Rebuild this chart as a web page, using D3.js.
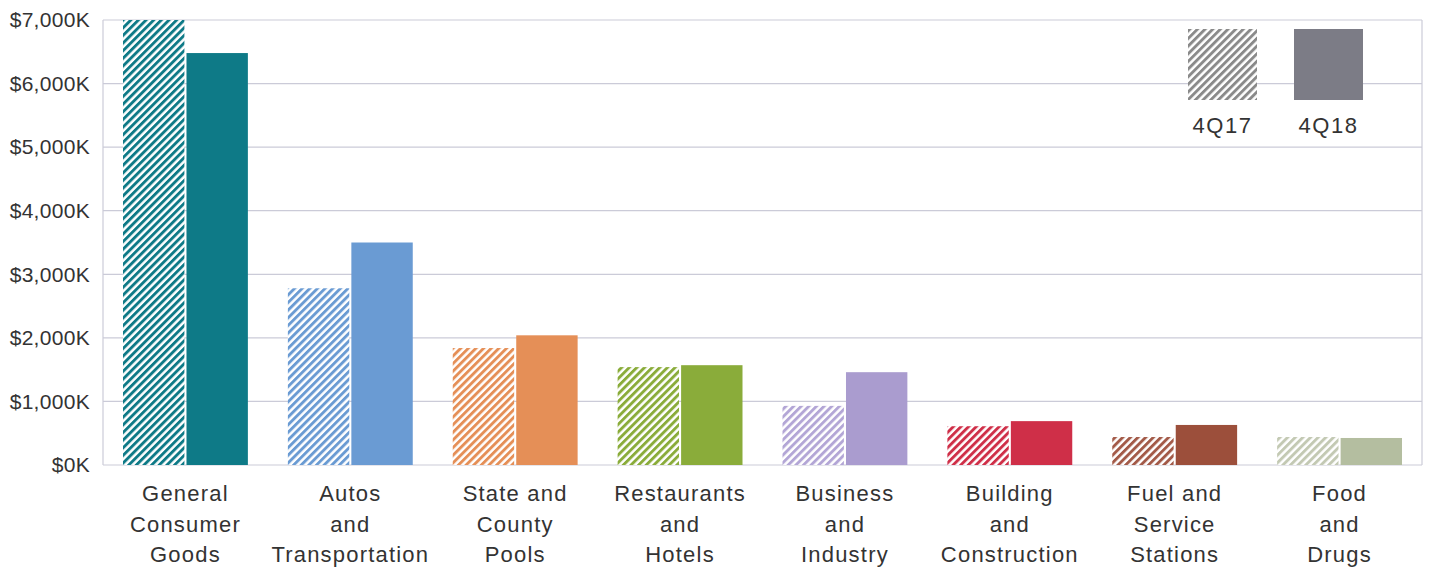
<!DOCTYPE html>
<html>
<head>
  <meta charset="utf8" />
  <style>
    body {
      margin: 0;
      background: #fff;
    }
    text {
      font-family: "Liberation Sans", Arial, sans-serif;
      fill: #333;
    }
  </style>
</head>
<body>
  <script src="https://d3js.org/d3.v7.min.js"></script>
  <script>
    var categories = [
      ["General", "Consumer", "Goods"],
      ["Autos", "and", "Transportation"],
      ["State and", "County", "Pools"],
      ["Restaurants", "and", "Hotels"],
      ["Business", "and", "Industry"],
      ["Building", "and", "Construction"],
      ["Fuel and", "Service", "Stations"],
      ["Food", "and", "Drugs"]
    ];
    var series = ["4Q17", "4Q18"];
    var values4Q17 = [7000, 2780, 1840, 1540, 930, 610, 440, 440];
    var values4Q18 = [6480, 3500, 2040, 1570, 1460, 690, 630, 425];
    var colors = ["#0e7a87", "#6a9bd3", "#e58f57", "#8aac3a", "#aa9ccf", "#cf2f48", "#9c4f3b", "#b4bea0"];
    var hatchColors = ["#0e7a87", "#6a9bd3", "#e58f57", "#8aac3a", "#b3a6d6", "#cf2f48", "#a35a48", "#c3c9b3"];
    var yTicks = [0, 1000, 2000, 3000, 4000, 5000, 6000, 7000];
    var legendColor = "#7c7c86";

    var width = 1429, height = 570;
    var margin = {left: 103, right: 7, top: 20, bottom: 105};

    var svg = d3.select("body").append("svg").attr("width", width).attr("height", height);
    var defs = svg.append("defs");

    function hatch(id, color) {
      var p = defs.append("pattern")
          .attr("id", id)
          .attr("patternUnits", "userSpaceOnUse")
          .attr("width", 5.4)
          .attr("height", 10)
          .attr("patternTransform", "rotate(45)");
      p.append("rect").attr("width", 5.4).attr("height", 10).attr("fill", "#fff");
      p.append("rect").attr("width", 2.9).attr("height", 10).attr("fill", color);
    }
    hatchColors.forEach((c, i) => hatch("h" + i, c));
    hatch("hlegend", "#8a8a8a");

    var x = d3.scaleBand()
        .domain(d3.range(categories.length))
        .range([margin.left, width - margin.right]);

    var xs = d3.scaleBand()
        .domain(series)
        .range([20, x.bandwidth() - 20])
        .paddingInner(0.033);

    var y = d3.scaleLinear()
        .domain([0, 7000])
        .range([height - margin.bottom, margin.top]);

    // grid
    svg.append("g").selectAll("line")
        .data(yTicks)
      .enter().append("line")
        .attr("x1", margin.left)
        .attr("x2", width - margin.right)
        .attr("y1", d => y(d))
        .attr("y2", d => y(d))
        .attr("stroke", "#cbcbd8")
        .attr("stroke-width", 1.2);

    svg.append("line")
        .attr("x1", margin.left).attr("x2", margin.left)
        .attr("y1", y(7000)).attr("y2", y(0))
        .attr("stroke", "#cbcbd8").attr("stroke-width", 1.2);
    svg.append("line")
        .attr("x1", width - margin.right).attr("x2", width - margin.right)
        .attr("y1", y(7000)).attr("y2", y(0))
        .attr("stroke", "#cbcbd8").attr("stroke-width", 1.2);

    // y axis labels
    var yAxis = d3.axisLeft(y)
        .tickValues(yTicks)
        .tickSize(0)
        .tickPadding(13)
        .tickFormat(d => "$" + d3.format(",")(d) + "K");
    svg.append("g")
        .attr("transform", "translate(" + margin.left + ",0)")
        .call(yAxis)
        .call(g => g.select(".domain").remove())
        .selectAll("text")
        .attr("font-size", 21)
        .attr("letter-spacing", 0.3)
        .attr("font-family", "'Liberation Sans', Arial, sans-serif")
        .attr("fill", "#333");

    // bars
    var groups = svg.append("g").selectAll("g")
        .data(categories)
      .enter().append("g")
        .attr("transform", (d, i) => "translate(" + x(i) + ",0)");

    groups.append("rect")
        .attr("x", xs("4Q17"))
        .attr("width", xs.bandwidth())
        .attr("y", (d, i) => y(values4Q17[i]))
        .attr("height", (d, i) => y(0) - y(values4Q17[i]))
        .attr("fill", (d, i) => "url(#h" + i + ")");

    groups.append("rect")
        .attr("x", xs("4Q18"))
        .attr("width", xs.bandwidth())
        .attr("y", (d, i) => y(values4Q18[i]))
        .attr("height", (d, i) => y(0) - y(values4Q18[i]))
        .attr("fill", (d, i) => colors[i]);

    // category labels
    groups.append("text")
        .attr("text-anchor", "middle")
        .attr("font-size", 22)
        .attr("letter-spacing", 1.2)
        .attr("x", x.bandwidth() / 2)
        .attr("y", y(0) + 36)
        .selectAll("tspan")
        .data(d => d)
      .enter().append("tspan")
        .attr("x", x.bandwidth() / 2)
        .attr("dy", (d, i) => i === 0 ? 0 : 30.5)
        .text(d => d);

    // legend
    var legend = svg.append("g").attr("transform", "translate(1188,29)");
    var lg = legend.selectAll("g")
        .data(series)
      .enter().append("g")
        .attr("transform", (d, i) => "translate(" + i * 106 + ",0)");
    lg.append("rect")
        .attr("width", 69)
        .attr("height", 71)
        .attr("fill", (d, i) => i === 0 ? "url(#hlegend)" : legendColor);
    lg.append("text")
        .attr("x", 34.5)
        .attr("y", 104)
        .attr("text-anchor", "middle")
        .attr("font-size", 22)
        .attr("letter-spacing", 1.5)
        .text(d => d);
  </script>
</body>
</html>
